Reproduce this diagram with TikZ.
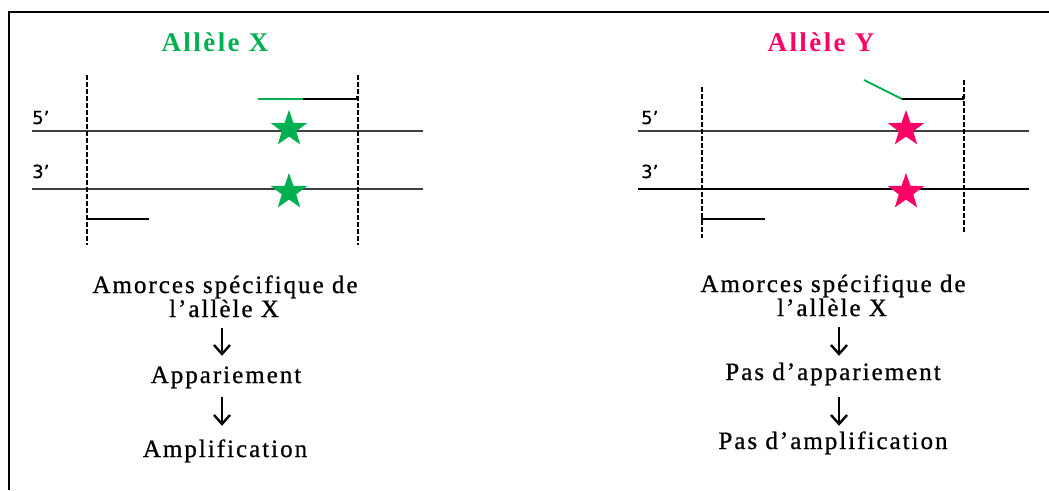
\documentclass[tikz,border=0pt]{standalone}
\usepackage{fontspec}
\usetikzlibrary{shapes.geometric,arrows.meta}
\newfontfamily\tnr[LetterSpace=8,FakeBold=0.8]{Liberation Serif}
\newfontfamily\tnrb[LetterSpace=9]{Liberation Serif Bold}
\newfontfamily\lab[FakeBold=0.5]{DejaVu Sans}
\definecolor{grn}{HTML}{00B050}
\definecolor{pnk}{HTML}{FF0066}
\begin{document}
\begin{tikzpicture}[x=1pt,y=-1pt,
  txt/.style={anchor=base,inner sep=0pt,text height=16pt,text depth=5pt,font=\fontsize{25}{29}\selectfont\tnr},
  ttl/.style={anchor=base,inner sep=0pt,font=\fontsize{27}{31}\selectfont\tnrb},
  endlab/.style={anchor=base west,inner sep=0pt,font=\fontsize{18}{20}\selectfont\lab},
  strand/.style={line width=1.2pt,black!75},
  guide/.style={line width=1.4pt,dash pattern=on 4.5pt off 2.5pt,black},
  primer/.style={line width=2.4pt},
  snp/.style={star,star points=5,star point ratio=2.5,minimum size=38pt,inner sep=0pt,draw=none},
  arr/.style={line width=2.4pt,-{Straight Barb[length=9pt,width=16pt,line width=2.4pt]}}]
\useasboundingbox (0,0) rectangle (1049,490);
\fill[white] (0,0) rectangle (1049,490);
% frame
\draw[line width=2.2pt] (9,490) -- (9,12) -- (1049,12);

% ===== Left panel
\node[ttl,text=grn] (tX) at (215,51) {Allèle X};
\node[endlab] (l5) at (32,124) {5’};
\node[endlab] (l3) at (32,178) {3’};
\coordinate (L5a) at (32,131); \coordinate (L5b) at (423,131);
\coordinate (L3a) at (32,189); \coordinate (L3b) at (423,189);
\draw[strand] (L5a) -- (L5b);
\draw[strand] (L3a) -- (L3b);
\coordinate (LgA) at (87,75); \coordinate (LgB) at (87,245);
\coordinate (LgC) at (358,75); \coordinate (LgD) at (358,245);
\draw[guide] (LgA) -- (LgB);
\draw[guide] (LgC) -- (LgD);
\node[snp,fill=grn] (sX1) at (289,129) {};
\node[snp,fill=grn] (sX2) at (289,192) {};
% primers
\coordinate (pX1) at (258,99); \coordinate (pX2) at (303,99); \coordinate (pX3) at (357,99);
\draw[primer,grn] (pX1) -- (pX2);
\draw[primer,black] (pX2) -- (pX3) -- ++(0,-3);
\coordinate (pX4) at (87,219); \coordinate (pX5) at (149,219);
\draw[primer,black] (pX5) -- (pX4) -- ++(0,-4);

\node[txt] (aX1) at (225,293) {Amorces spécifique de};
\node[txt] (aX2) at (224,317) {l’allèle X};
\node[txt] (apX) at (226,383) {Appariement};
\node[txt] (amX) at (225,457) {Amplification};
\coordinate (axL) at (222,0);
\draw[arr,shorten <=6pt,shorten >=11pt] (axL |- aX2.south) -- (axL |- apX.north);
\draw[arr,shorten <=9pt,shorten >=15pt] (axL |- apX.south) -- (axL |- amX.north);

% ===== Right panel
\node[ttl,text=pnk] (tY) at (821,51) {Allèle Y};
\node[endlab] (r5) at (641,124) {5’};
\node[endlab] (r3) at (641,178) {3’};
\coordinate (R5a) at (638,131); \coordinate (R5b) at (1029,131);
\coordinate (R3a) at (638,189); \coordinate (R3b) at (1029,189);
\draw[strand] (R5a) -- (R5b);
\draw[strand,black] (R3a) -- (R3b);
\coordinate (RgA) at (702,87); \coordinate (RgB) at (702,238);
\coordinate (RgC) at (964,80); \coordinate (RgD) at (964,232);
\draw[guide] (RgA) -- (RgB);
\draw[guide] (RgC) -- (RgD);
\node[snp,fill=pnk] (sY1) at (906,129) {};
\node[snp,fill=pnk] (sY2) at (906,192) {};
\coordinate (pY1) at (864,80); \coordinate (pY2) at (902,99); \coordinate (pY3) at (963,99);
\draw[primer,grn,line width=2pt] (pY1) -- (pY2);
\draw[primer,black] (pY2) -- (pY3) -- ++(0,-3);
\coordinate (pY4) at (702,219); \coordinate (pY5) at (765,219);
\draw[primer,black] (pY5) -- (pY4) -- ++(0,-4);

\node[txt] (aY1) at (833,292) {Amorces spécifique de};
\node[txt] (aY2) at (832,316) {l’allèle X};
\node[txt] (apY) at (833,380) {Pas d’appariement};
\node[txt] (amY) at (833,449) {Pas d’amplification};
\coordinate (axR) at (839,0);
\draw[arr,shorten <=6pt,shorten >=8pt] (axR |- aY2.south) -- (axR |- apY.north);
\draw[arr,shorten <=12pt,shorten >=7pt] (axR |- apY.south) -- (axR |- amY.north);
\end{tikzpicture}
\end{document}
